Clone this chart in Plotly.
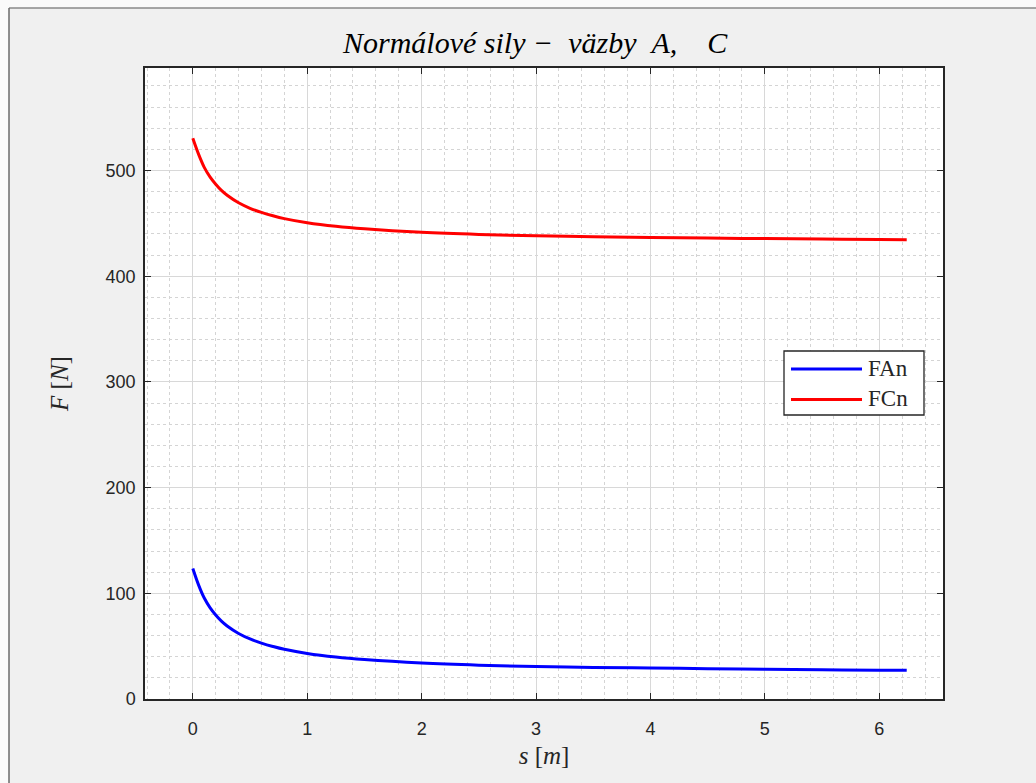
import plotly.graph_objects as go

# Displacement s [m]
s = [0.0, 0.05, 0.1, 0.15, 0.2, 0.25, 0.3, 0.4, 0.5, 0.6, 0.7, 0.8, 1.0,
     1.25, 1.5, 2.0, 2.5, 3.0, 3.5, 4.0, 4.5, 5.0, 5.5, 6.0, 6.24]

# Normal force in support A [N]
fan = [123.5, 108.0, 95.5, 86.5, 79.5, 73.7, 69.1, 62.0, 56.8, 52.9, 49.7,
       47.0, 43.1, 39.7, 37.3, 34.0, 32.0, 30.7, 29.9, 29.3, 28.7, 28.2,
       27.7, 27.3, 27.1]

# Normal force in support C [N]
fcn = [530.5, 515.5, 503.0, 494.0, 487.0, 481.2, 476.6, 469.5, 464.3, 460.4,
       457.2, 454.5, 450.6, 447.2, 444.8, 441.5, 439.5, 438.2, 437.4, 436.7,
       436.1, 435.6, 435.1, 434.7, 434.5]

series = [("FAn", fan, "#0000ff"), ("FCn", fcn, "#ff0000")]

x_ticks = [0, 1, 2, 3, 4, 5, 6]
y_ticks = [0, 100, 200, 300, 400, 500]

W, H = 1036, 783
L, R, T, B = 145, 93, 68, 84
pw, ph = W - L - R, H - T - B


def px(xp):
    return (xp - L) / pw


def py(yp):
    return (H - B - yp) / ph


fig = go.Figure()
for name, vals, color in series:
    fig.add_trace(go.Scatter(x=s, y=vals, name=name, mode="lines", showlegend=False,
                             line=dict(color=color, width=3, shape="spline", smoothing=1.0)))

tick_font = dict(family="Liberation Sans, Arial, sans-serif", size=18, color="#262626")
serif = "Liberation Serif, Times New Roman, serif"

axis_common = dict(
    showline=True, linecolor="#262626", linewidth=1.5, mirror="ticks",
    ticks="inside", ticklen=6, tickwidth=1.3, tickcolor="#262626",
    showgrid=True, gridcolor="#d8d8d8", gridwidth=1,
    zeroline=False, tickfont=tick_font,
)

fig.update_xaxes(
    range=[-0.418, 6.557], tickvals=x_ticks, ticklabelstandoff=13,
    minor=dict(dtick=0.2, tick0=0, showgrid=True, gridcolor="#d4d4d4",
               griddash="3px,3px", gridwidth=1, ticks=""),
    title=dict(text="<i>s</i> [<i>m</i>]", font=dict(family=serif, size=25, color="#262626"),
               standoff=8),
    **axis_common,
)
fig.update_yaxes(
    range=[0, 597], tickvals=y_ticks, ticklabelstandoff=4,
    minor=dict(dtick=20, tick0=0, showgrid=True, gridcolor="#d4d4d4",
               griddash="3px,3px", gridwidth=1, ticks=""),
    title=dict(text="<i>F</i> [<i>N</i>]", font=dict(family=serif, size=25, color="#262626"),
               standoff=30),
    **axis_common,
)

# window frame around the figure
shapes = [
    dict(type="rect", xref="paper", yref="paper", x0=px(0), x1=px(W), y0=py(0), y1=py(8),
         fillcolor="#fafafa", line=dict(width=0), layer="below"),
    dict(type="rect", xref="paper", yref="paper", x0=px(0), x1=px(9), y0=py(0), y1=py(H),
         fillcolor="#fafafa", line=dict(width=0), layer="below"),
    dict(type="line", xref="paper", yref="paper", x0=px(9), x1=px(W), y0=py(8), y1=py(8),
         line=dict(color="#8a8a8a", width=1.5)),
    dict(type="line", xref="paper", yref="paper", x0=px(9), x1=px(9), y0=py(8), y1=py(H),
         line=dict(color="#6a6a6a", width=1.5)),
]

# legend box with long line samples
annotations = []
leg_x0, leg_x1, leg_y0, leg_y1 = 784, 924, 351, 415
shapes.append(dict(type="rect", xref="paper", yref="paper",
                   x0=px(leg_x0), x1=px(leg_x1), y0=py(leg_y1), y1=py(leg_y0),
                   fillcolor="#ffffff", line=dict(color="#262626", width=1.3)))
for i, (name, _, color) in enumerate(series):
    yy = 369 + i * 30.5
    shapes.append(dict(type="line", xref="paper", yref="paper",
                       x0=px(791), x1=px(862), y0=py(yy), y1=py(yy),
                       line=dict(color=color, width=3)))
    annotations.append(dict(text=name, xref="paper", yref="paper", x=px(866), y=py(yy - 1),
                            xanchor="left", yanchor="middle", showarrow=False,
                            font=dict(family=serif, size=23, color="#262626")))

fig.update_layout(
    width=W, height=H,
    margin=dict(l=L, r=R, t=T, b=B),
    paper_bgcolor="#f0f0f0", plot_bgcolor="#ffffff",
    title=dict(text="<i>Normálové sily −&nbsp; väzby&nbsp;&nbsp;A,&nbsp;&nbsp;&nbsp;&nbsp;C</i>",
               x=343 / W, xref="container", xanchor="left", y=1 - 42 / H, yanchor="middle",
               font=dict(family=serif, size=30, color="#000000")),
    shapes=shapes,
    annotations=annotations,
    showlegend=False,
)

fig.write_html("out.html")
